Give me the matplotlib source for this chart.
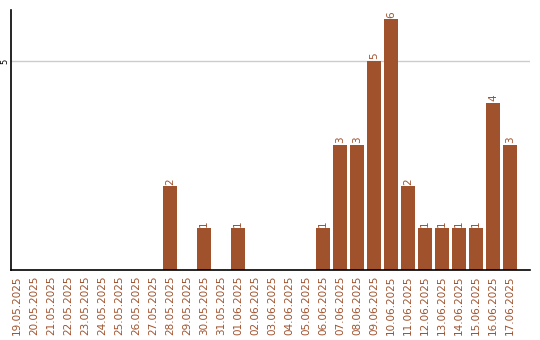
import matplotlib
matplotlib.use('Agg')
import matplotlib.pyplot as plt
import numpy as np

dates = ['19.05.2025', '20.05.2025', '21.05.2025', '22.05.2025', '23.05.2025',
         '24.05.2025', '25.05.2025', '26.05.2025', '27.05.2025', '28.05.2025',
         '29.05.2025', '30.05.2025', '31.05.2025', '01.06.2025', '02.06.2025',
         '03.06.2025', '04.06.2025', '05.06.2025', '06.06.2025', '07.06.2025',
         '08.06.2025', '09.06.2025', '10.06.2025', '11.06.2025', '12.06.2025',
         '13.06.2025', '14.06.2025', '15.06.2025', '16.06.2025', '17.06.2025']
counts = [0, 0, 0, 0, 0, 0, 0, 0, 0, 2,
          0, 1, 0, 1, 0, 0, 0, 0, 1, 3,
          3, 5, 6, 2, 1, 1, 1, 1, 4, 3]

bar_color = '#A0522D'

fig = plt.figure(figsize=(5.4, 3.4), dpi=100)
ax = fig.add_axes([11 / 540, 1 - 270 / 340, 519 / 540, 260 / 340])

x = np.arange(len(dates))
ax.bar(x, counts, width=0.82, color=bar_color, zorder=2)

for xi, v in zip(x, counts):
    if v > 0:
        ax.text(xi, v + 0.04, str(v), rotation=90, ha='center', va='bottom',
                fontsize=7.5, color=bar_color)

# first category sits ~6px right of the axis, last one leaves ~20px
ax.set_xlim(-6 / 17, len(dates) - 1 + 20 / 17)
ax.set_ylim(0, 6.22)
ax.set_xticks(x)
ax.set_xticklabels(dates, rotation=90, fontsize=7.5, color=bar_color)
ax.set_yticks([5])
ax.set_yticklabels(['5'], rotation=90, fontsize=6, va='center')
ax.tick_params(axis='x', length=0, pad=4)
ax.tick_params(axis='y', length=0, pad=1)
ax.yaxis.grid(True, color='#cccccc', linewidth=1, zorder=0)

ax.spines['top'].set_visible(False)
ax.spines['right'].set_visible(False)
ax.spines['left'].set_linewidth(1.2)
ax.spines['bottom'].set_linewidth(1.2)

fig.savefig('out.png', dpi=100)
